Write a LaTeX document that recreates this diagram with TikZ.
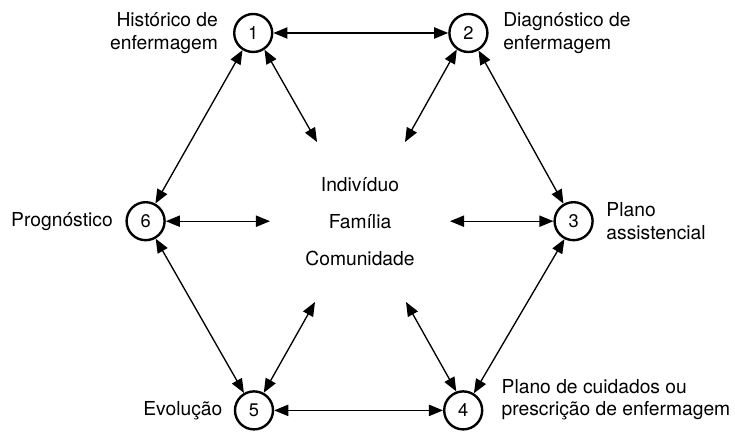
\documentclass[tikz,border=0pt]{standalone}
\usepackage{fontspec}
\setmainfont{TeX Gyre Heros}
\usetikzlibrary{arrows.meta, positioning}

\begin{document}
\begin{tikzpicture}[
    etapa/.style={circle, draw, line width=1.7pt, minimum size=0.95cm, inner sep=0pt, font=\fontsize{13}{14}\selectfont},
    rotulo/.style={inner sep=0pt, font=\fontsize{13.7}{15.8}\selectfont},
    seta/.style={{Triangle[length=10pt,width=8pt]}-{Triangle[length=10pt,width=8pt]}, line width=0.95pt}
]
    \useasboundingbox (0,0) rectangle (18.375,10.8);

    % Steps
    \node[etapa] (n1) at (6.33,9.975) {1};
    \node[etapa] (n2) at (11.71,9.975) {2};
    \node[etapa] (n3) at (14.34,5.27) {3};
    \node[etapa] (n4) at (11.58,0.54) {4};
    \node[etapa] (n5) at (6.35,0.54) {5};
    \node[etapa] (n6) at (3.64,5.27) {6};

    % Labels
    \node[rotulo, align=right, left=0.37cm of n1] (l1) {Histórico de\\enfermagem};
    \node[rotulo, align=left, right=0.36cm of n2] (l2) {Diagnóstico de\\enfermagem};
    \node[rotulo, align=left, right=0.31cm of n3] (l3) {Plano\\assistencial};
    \node[rotulo, align=left, right=0.45cm of n4, yshift=0.27cm] (l4) {Plano de cuidados ou\\prescrição de enfermagem};
    \node[rotulo, left=0.28cm of n5] (l5) {Evolução};
    \node[rotulo, left=0.31cm of n6] (l6) {Prognóstico};

    % Centre
    \node[inner sep=0pt, align=center, font=\fontsize{13.7}{26.3}\selectfont] (centro) at (9,5.25) {Indivíduo\\Família\\Comunidade};

    % Free ends
    \coordinate (c1) at (7.925,7.25);
    \coordinate (c2) at (10.125,7.25);
    \coordinate (c3) at (11.25,5.27);
    \coordinate (c4) at (10.15,3.25);
    \coordinate (c5) at (7.875,3.25);
    \coordinate (c6) at (6.75,5.27);

    % Ring
    \draw[seta] (n1.east) -- (n2.west);
    \draw[seta] (n2.-60) -- (n3.120);
    \draw[seta] (n3.243) -- (n4.58);
    \draw[seta] (n5.east) -- (n4.west);
    \draw[seta] (n6.-60) -- (n5.120);
    \draw[seta] (n1.238) -- (n6.61);

    % To the centre
    \draw[seta] (n1.-56) -- (c1);
    \draw[seta] (n2.-125) -- (c2);
    \draw[seta] (n3.west) -- (c3);
    \draw[seta] (n4.110) -- (c4);
    \draw[seta] (n5.61) -- (c5);
    \draw[seta] (n6.east) -- (c6);
\end{tikzpicture}
\end{document}
